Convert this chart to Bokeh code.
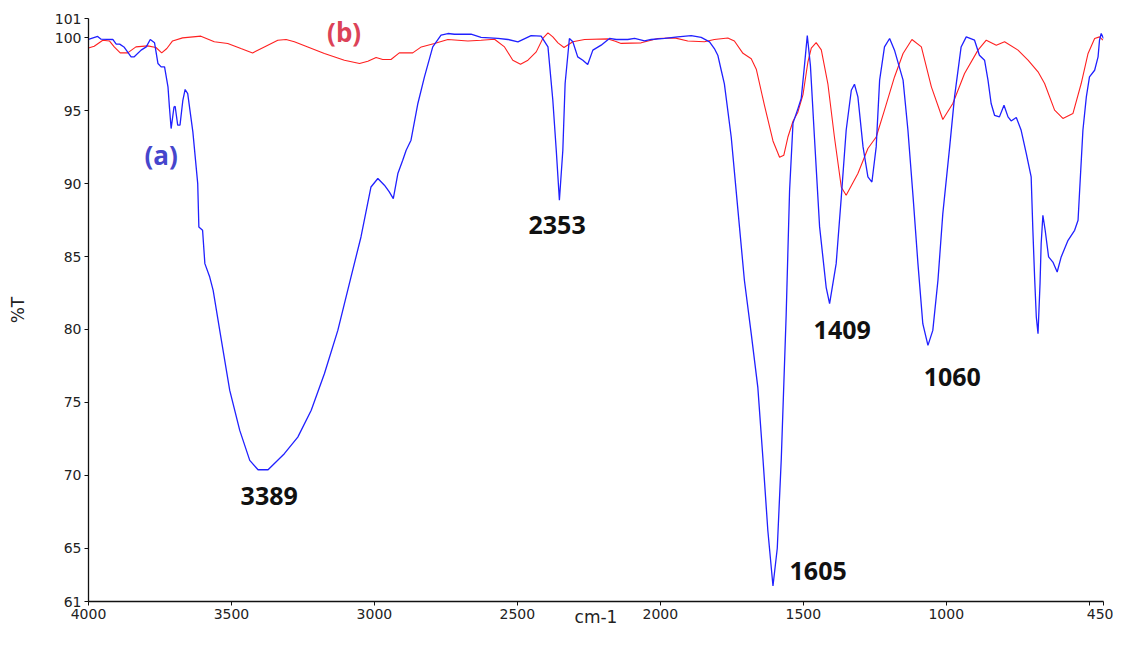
from bokeh.plotting import figure
from bokeh.models import Range1d, FixedTicker
from bokeh.core.properties import value
from bokeh.embed import file_html
from bokeh.resources import INLINE

# ---- data: series (a) blue ----
a_wavenumber = [4000, 3968, 3956, 3915, 3903, 3891, 3876, 3851, 3840, 3816, 3798, 3784, 3769, 3757,
                3746, 3734, 3722, 3717, 3711, 3701, 3697, 3688, 3680, 3670, 3662, 3653, 3635, 3618,
                3614, 3601, 3593, 3576, 3564, 3541, 3506, 3471, 3436, 3407, 3372, 3315, 3268, 3221,
                3175, 3128, 3082, 3047, 3012, 2988, 2965, 2948, 2934, 2918, 2901, 2889, 2872, 2848,
                2825, 2796, 2767, 2743, 2720, 2662, 2627, 2568, 2533, 2498, 2452, 2417, 2393, 2376,
                2364, 2353, 2341, 2333, 2318, 2306, 2289, 2271, 2254, 2236, 2207, 2178, 2154, 2114,
                2090, 2055, 2032, 1985, 1939, 1892, 1857, 1828, 1811, 1799, 1787, 1776, 1752, 1729,
                1706, 1682, 1659, 1641, 1624, 1606, 1591, 1577, 1560, 1548, 1536, 1519, 1507, 1496,
                1486, 1475, 1461, 1443, 1420, 1408, 1385, 1367, 1350, 1332, 1321, 1309, 1291, 1274,
                1260, 1245, 1233, 1216, 1198, 1181, 1151, 1134, 1116, 1099, 1082, 1064, 1047, 1029,
                1012, 988, 971, 948, 930, 901, 884, 866, 854, 843, 831, 814, 798, 784, 773, 755, 738,
                720, 703, 697, 691, 685, 679, 672, 668, 662, 654, 642, 627, 612, 598, 574, 551, 539,
                534, 522, 510, 499, 481, 469, 464, 458, 450]
a_transmittance = [99.9, 100.1, 99.91, 99.89, 99.57, 99.57, 99.38, 98.7, 98.7, 99.16, 99.38, 99.89,
                   99.66, 98.24, 98.01, 98.01, 96.64, 95.26, 93.78, 95.26, 95.31, 94.01, 94.01, 95.72,
                   96.46, 96.18, 93.55, 90.0, 87.03, 86.8, 84.51, 83.59, 82.68, 79.93, 75.81, 73.07,
                   71.01, 70.37, 70.37, 71.47, 72.61, 74.45, 76.96, 79.93, 83.59, 86.34, 89.77, 90.35,
                   89.89, 89.43, 88.97, 90.69, 91.6, 92.29, 92.98, 95.5, 97.32, 99.38, 100.19, 100.3,
                   100.25, 100.25, 100.03, 99.96, 99.89, 99.73, 100.16, 100.12, 99.38, 95.72, 92.29,
                   88.86, 92.29, 96.87, 99.96, 99.73, 98.7, 98.47, 98.17, 99.16, 99.5, 99.96, 99.89,
                   99.89, 99.96, 99.79, 99.89, 99.96, 100.07, 100.16, 100.03, 99.73, 99.27, 98.81,
                   97.78, 96.85, 93.18, 88.27, 83.37, 79.69, 76.02, 71.11, 66.2, 62.39, 64.98, 71.11,
                   80.92, 89.5, 94.15, 95.13, 95.87, 98.08, 100.16, 98.08, 93.18, 87.05, 82.89, 81.77,
                   84.51, 89.09, 93.66, 96.41, 96.82, 95.95, 92.52, 90.46, 90.11, 92.52, 97.1, 99.38,
                   99.96, 99.16, 97.1, 93.66, 89.09, 84.51, 80.39, 78.9, 79.93, 83.37, 87.94, 92.52,
                   95.95, 99.38, 100.07, 99.84, 98.81, 98.47, 97.1, 95.5, 94.69, 94.58, 95.38, 94.58,
                   94.3, 94.54, 93.66, 92.06, 90.46, 86.8, 83.59, 80.85, 79.71, 83.14, 85.89, 87.83,
                   86.8, 84.97, 84.62, 83.94, 84.97, 86.11, 86.8, 87.49, 89.32, 93.66, 95.95, 97.32,
                   97.78, 98.7, 99.84, 100.3, 99.96]

# ---- data: series (b) red ----
b_wavenumber = [4000, 3980, 3950, 3927, 3910, 3889, 3863, 3834, 3793, 3764, 3744, 3726, 3706, 3671,
                3607, 3560, 3513, 3467, 3426, 3385, 3338, 3309, 3280, 3233, 3175, 3105, 3052, 3023,
                2994, 2971, 2942, 2913, 2866, 2836, 2790, 2743, 2673, 2627, 2580, 2545, 2516, 2489,
                2463, 2434, 2411, 2393, 2376, 2358, 2337, 2306, 2265, 2183, 2160, 2137, 2067, 2009,
                1950, 1904, 1846, 1811, 1764, 1741, 1711, 1682, 1664, 1636, 1606, 1583, 1568, 1554,
                1536, 1519, 1501, 1484, 1472, 1455, 1437, 1414, 1391, 1367, 1350, 1309, 1274, 1245,
                1216, 1181, 1151, 1120, 1087, 1052, 1012, 977, 936, 889, 860, 825, 796, 749, 714,
                679, 656, 621, 592, 557, 528, 504, 481, 464, 452]
b_transmittance = [99.31, 99.43, 99.84, 99.79, 99.38, 98.97, 98.97, 99.38, 99.45, 99.34, 98.97,
                   99.27, 99.79, 100.0, 100.12, 99.73, 99.62, 99.27, 98.97, 99.38, 99.84, 99.89,
                   99.73, 99.38, 98.93, 98.47, 98.24, 98.4, 98.65, 98.52, 98.52, 98.97, 98.97, 99.38,
                   99.62, 99.89, 99.79, 99.84, 99.91, 99.38, 98.47, 98.19, 98.47, 99.04, 99.96,
                   100.34, 100.07, 99.66, 99.34, 99.73, 99.89, 99.93, 99.79, 99.62, 99.66, 99.96,
                   100.0, 99.79, 99.73, 99.89, 99.99, 99.79, 98.94, 98.57, 97.83, 95.38, 92.93, 91.81,
                   91.95, 93.18, 94.28, 94.9, 96.11, 98.33, 99.3, 99.67, 99.18, 96.85, 93.18, 89.75,
                   89.2, 90.69, 92.41, 93.2, 95.04, 97.32, 98.93, 99.89, 99.38, 96.64, 94.4, 95.5,
                   97.56, 99.16, 99.84, 99.5, 99.73, 99.16, 98.47, 97.67, 96.87, 95.04, 94.47, 94.81,
                   96.87, 98.93, 99.96, 100.07, 99.84]

# ---- peak labels ----
peak_labels = ["3389", "2353", "1605", "1409", "1060"]
peak_label_x = [3368, 2361, 1448, 1364, 979]
peak_label_y = [68.6, 87.14, 63.39, 79.93, 76.71]

series_labels = ["(a)", "(b)"]
series_label_x = [3746, 3106]
series_label_y = [91.95, 100.39]

# ---- axes ----
x_ticks = [4000, 3500, 3000, 2500, 2000, 1500, 1000, 500, 450]
x_tick_labels = ["4000", "3500", "3000", "2500", "2000", "1500", "1000", "", "450"]
y_ticks = [61.33, 65, 70, 75, 80, 85, 90, 95, 100, 101.33]
y_tick_labels = ["61", "65", "70", "75", "80", "85", "90", "95", "100", "101"]
x_title = "cm-1"
y_title = "%T"

p = figure(width=1113, height=630, output_backend="svg", toolbar_location=None,
           x_range=Range1d(4000, 450), y_range=Range1d(61.33, 101.33),
           min_border_left=88, min_border_right=10, min_border_top=18, min_border_bottom=29,
           x_axis_label=x_title, y_axis_label=y_title)
p.outline_line_color = None
p.xgrid.visible = False
p.ygrid.visible = False
p.background_fill_color = "white"
p.border_fill_color = "white"

p.xaxis.ticker = FixedTicker(ticks=x_ticks)
p.xaxis.major_label_overrides = dict(zip(x_ticks, x_tick_labels))
p.yaxis.ticker = FixedTicker(ticks=y_ticks)
p.yaxis.major_label_overrides = dict(zip(y_ticks, y_tick_labels))

for ax in (p.xaxis, p.yaxis):
    ax.axis_line_color = "#111111"
    ax.axis_line_width = 1.3
    ax.major_tick_line_color = "#111111"
    ax.major_tick_in = 0
    ax.major_tick_out = 4
    ax.minor_tick_line_color = None
    ax.major_label_text_font = "DejaVu Sans"
    ax.major_label_text_font_size = "14px"
    ax.major_label_text_color = "#222222"
    ax.axis_label_text_font = "DejaVu Sans"
    ax.axis_label_text_font_size = "17px"
    ax.axis_label_text_font_style = "normal"
    ax.axis_label_text_color = "#222222"
p.xaxis.major_label_standoff = 3
p.xaxis.axis_label_standoff = -15
p.yaxis.major_label_standoff = 3
p.yaxis.axis_label_standoff = 24

p.line(b_wavenumber, b_transmittance, line_color="#ff2020", line_width=1.1)
p.line(a_wavenumber, a_transmittance, line_color="#2020ff", line_width=1.3)

p.text(x=peak_label_x, y=peak_label_y, text=peak_labels, text_font=value("Open Sans"),
       text_font_style="bold", text_font_size="25px", text_align="center",
       text_baseline="middle", text_color="#111111")
p.text(x=series_label_x, y=series_label_y, text=series_labels, text_font=value("Open Sans"),
       text_font_style="bold", text_font_size="26px", text_align="center",
       text_baseline="middle", text_color=["#4646cc", "#dc4258"])

open("out.html", "w").write(file_html(p, INLINE))
